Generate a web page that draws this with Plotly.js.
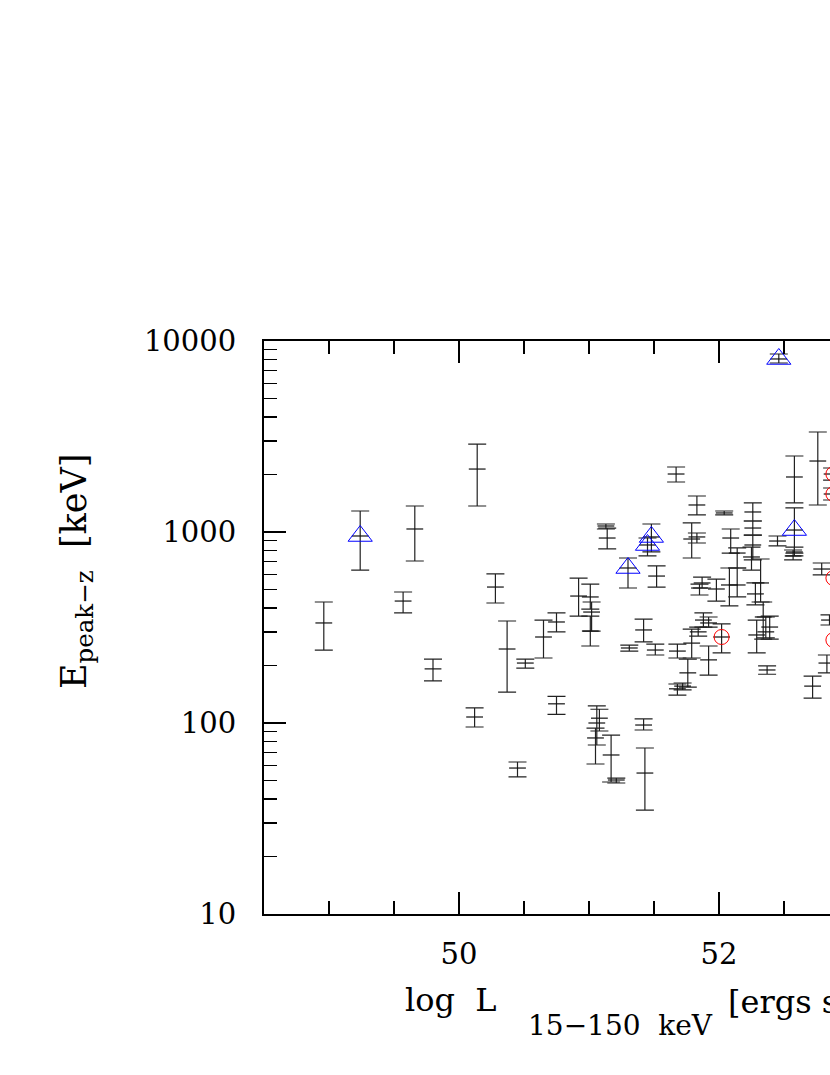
<!DOCTYPE html>
<html>
<head>
<meta charset="utf-8">
<script src="https://cdn.plot.ly/plotly-3.0.1.min.js"></script>
<style>
html,body{margin:0;padding:0;overflow:hidden;background:#fff;}
#chart{width:1200px;height:1075px;}
</style>
</head>
<body>
<div id="chart"></div>
<script>
// log L (15-150 keV) values
const logL = [48.96,49.24,49.66,49.57,49.80,50.14,50.28,50.12,50.45,50.37,
  50.51,50.65,50.75,50.75,50.92,51.01,51.02,51.01,51.13,51.14,
  51.30,51.45,51.48,51.52,51.67,51.83,52.04,52.46,52.58,52.58,
  52.58,52.57,52.76,51.79,51.83,52.09,52.14,52.14,52.08,51.98,
  52.26,52.26,52.26,52.25,52.45,51.87,51.85,51.88,51.92,51.84,
  51.92,51.79,51.76,51.68,51.72,51.68,51.51,51.42,51.31,52.02,
  52.29,52.34,52.39,52.28,52.32,52.37,52.72,52.83,52.79,52.85,
  51.06,51.08,51.05,51.17,51.21,51.42,51.43,52.36,52.87];
// E_peak,z [keV]
const epk = [334,953,1037,435,192,2136,515,107.5,58.1,244,
  206,282,338,126,462,457,381,303,1075,930,
  648,855,942,588,2012,1385,1258,8052,1941,1024,
  786,749,2353,919,942,930,776,528,528,503,
  1273,1049,855,740,897,541,509,346,334,300,
  214,262,183,151,156,238,241,307,247,282,
  289,359,318,474,541,189.5,156,206,640,346,
  100,106,83.5,68,50.3,97.6,54.7,300,2012];
const epkHigh = [430,1288,1368,485,216,2888,603,120,62.5,342,
  216,346,377,138,574,534,430,363,1101,1049,
  731,930,1101,664,2189,1543,1288,8551,2500,1336,
  834,805,3339,1115,988,1037,825,648,648,567,
  1419,1142,964,834,953,581,534,377,359,318,
  253,310,216,160,162,259,259,350,256,330,
  346,430,363,541,722,199,176,227,688,368,
  123,118,94.1,86.5,51.5,105,74,359,2163];
const epkLow = [241,632,705,377,166,1368,425,95.3,52.2,145,
  194,219,300,111,363,395,303,253,1037,815,
  509,749,786,515,1827,1228,1228,7671,1419,776,
  749,714,1385,731,876,776,648,457,410,435,
  1142,964,714,632,845,509,468,318,318,285,
  178,219,154,140,149,219,227,266,238,233,
  233,275,275,415,430,180,135,183,596,326,
  76.7,90.8,61,49.1,48.5,91.9,35,279,1871];
// extra point with bar near the right edge
const logL2 = [52.87];
const epk2 = [1581];
const epkHigh2 = [1700];
const epkLow2 = [1471];

// blue triangles
const triLogL = [49.24,52.46,51.45,51.48,51.30,52.58];
const triEpk  = [953,8052,855,942,648,1024];
// red circles
const circLogL = [52.02,52.88,52.88,52.88,52.88];
const circEpk  = [282,2012,1581,574,272];

const allX = logL.concat(logL2);
const allY = epk.concat(epk2);
const allHi = epkHigh.concat(epkHigh2);
const allLo = epkLow.concat(epkLow2);

const bars = {
  x: allX, y: allY, type:'scatter', mode:'markers',
  marker:{symbol:'line-ew', size:12, color:'#000', line:{color:'#111', width:1.2}},
  error_y:{type:'data', symmetric:false,
    array: allHi.map((h,i)=>h-allY[i]),
    arrayminus: allLo.map((l,i)=>allY[i]-l),
    color:'#222', thickness:1.2, width:9},
  hoverinfo:'none', showlegend:false
};
const tris = {
  x: triLogL, y: triEpk, type:'scatter', mode:'markers',
  marker:{symbol:'triangle-up-open', size:21, color:'#0000ff', line:{color:'#0000ff', width:1}},
  showlegend:false, hoverinfo:'none'
};
const circs = {
  x: circLogL, y: circEpk, type:'scatter', mode:'markers',
  marker:{symbol:'circle-open', size:15, color:'#ff0000', line:{color:'#ff0000', width:1}},
  showlegend:false, hoverinfo:'none'
};

const FONT = 'DejaVu Serif, serif';
const W = 1200, L = 264, R = 91, T = 341, B = 161;
const pw = W - L - R, ph = 1075 - T - B;
const px = p => (p - L) / pw;
const py = p => (1075 - B - p) / ph;

const layout = {
  width: W, height: 1075,
  margin:{l:L, r:R, t:T, b:B, pad:0},
  paper_bgcolor:'#fff', plot_bgcolor:'#fff',
  showlegend:false,
  font:{family:FONT, color:'#000'},
  xaxis:{
    range:[48.5,55], tickmode:'linear', tick0:50, dtick:2,
    ticks:'inside', ticklen:22, tickwidth:1.5, tickcolor:'#000',
    showline:true, linewidth:2, linecolor:'#000', mirror:'allticks',
    showgrid:false, zeroline:false,
    tickfont:{family:FONT, size:29, color:'#000'},
    ticklabelstandoff:13,
    minor:{tick0:50, dtick:0.5, ticks:'inside', ticklen:13, tickwidth:1.5, tickcolor:'#000', showgrid:false}
  },
  yaxis:{
    type:'log', range:[1,4], dtick:1, tickformat:'d',
    ticks:'inside', ticklen:22, tickwidth:1.5, tickcolor:'#000',
    showline:true, linewidth:2, linecolor:'#000', mirror:'allticks',
    showgrid:false, zeroline:false,
    tickfont:{family:FONT, size:29, color:'#000'},
    ticklabelstandoff:20,
    minor:{dtick:'D1', ticks:'inside', ticklen:13, tickwidth:1.5, tickcolor:'#000', showgrid:false}
  },
  annotations:[
    {xref:'paper', yref:'paper', x:px(76), y:py(572), xanchor:'center', yanchor:'middle',
     text:'E<sub>peak\u2212z</sub>\u00a0\u00a0[keV]', textangle:-90, showarrow:false,
     font:{family:FONT, size:35, color:'#000'}},
    {xref:'paper', yref:'paper', x:px(403), y:py(1000), xanchor:'left', yanchor:'middle',
     text:'log\u00a0\u00a0L', showarrow:false, font:{family:FONT, size:32, color:'#000'}},
    {xref:'paper', yref:'paper', x:px(526), y:py(1025), xanchor:'left', yanchor:'middle',
     text:'15\u2212150\u00a0\u00a0keV', showarrow:false, font:{family:FONT, size:28, color:'#000'}},
    {xref:'paper', yref:'paper', x:px(726), y:py(1000), xanchor:'left', yanchor:'middle',
     text:'[ergs\u00a0s<sup>\u22121</sup>]', showarrow:false, font:{family:FONT, size:32, color:'#000'}}
  ]
};

Plotly.newPlot('chart', [bars, tris, circs], layout, {staticPlot:true, displayModeBar:false});
</script>
</body>
</html>
